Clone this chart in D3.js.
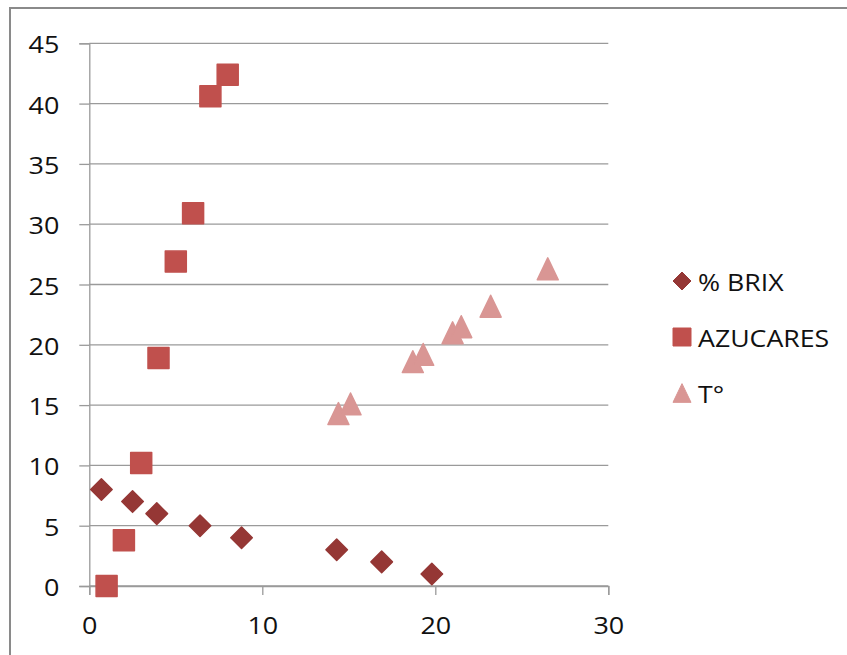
<!DOCTYPE html>
<html>
<head>
<meta charset="utf-8">
<script src="https://cdn.jsdelivr.net/npm/d3@7"></script>
<style>
  html, body { margin: 0; padding: 0; background: #fff; }
  svg { display: block; }
  text { font-family: "Open Sans", "Noto Sans", sans-serif; fill: #111; }
</style>
</head>
<body>
<svg id="chart" width="847" height="655"></svg>
<script>
// Series values: [x, y] pairs
const brix = [[0.7, 8], [2.5, 7], [3.9, 6], [6.4, 5], [8.8, 4], [14.3, 3], [16.9, 2], [19.8, 1]];
const azucares = [[1.0, 0], [2.0, 3.8], [3.0, 10.2], [4.0, 18.9], [5.0, 26.9], [6.0, 30.9], [7.0, 40.6], [8.0, 42.4]];
const temperatura = [[14.4, 14.3], [15.1, 15.1], [18.7, 18.6], [19.3, 19.2], [21.0, 21.0], [21.5, 21.5], [23.2, 23.2], [26.5, 26.3]];

const seriesNames = ["% BRIX", "AZUCARES", "T°"];
const seriesColors = ["#953735", "#C0504D", "#D99694"];
const xTicks = [0, 10, 20, 30];
const yTicks = [0, 5, 10, 15, 20, 25, 30, 35, 40, 45];

const svg = d3.select("#chart");

// Outer chart frame
svg.append("rect")
  .attr("x", 10).attr("y", 8)
  .attr("width", 860).attr("height", 680)
  .attr("fill", "none")
  .attr("stroke", "#8a8a8a")
  .attr("stroke-width", 2);

const x = d3.scaleLinear().domain([0, 30]).range([89.3, 608.3]);
const y = d3.scaleLinear().domain([0, 45]).range([586, 43.3]);

const gridColor = "#9a9a9a";

// Horizontal gridlines
svg.append("g")
  .selectAll("line")
  .data(yTicks)
  .join("line")
  .attr("x1", x(0)).attr("x2", x(30))
  .attr("y1", d => y(d)).attr("y2", d => y(d))
  .attr("stroke", gridColor)
  .attr("stroke-width", 1.3);

// Y axis
const yAxis = svg.append("g")
  .attr("transform", `translate(${x(0)},0)`)
  .call(d3.axisLeft(y).tickValues(yTicks).tickSize(10).tickPadding(0).tickFormat(d3.format("d")));
yAxis.select(".domain").attr("stroke", gridColor).attr("stroke-width", 1.3);
yAxis.selectAll(".tick line").attr("stroke", gridColor).attr("stroke-width", 1.3);
yAxis.selectAll(".tick text")
  .attr("x", null).attr("dy", null)
  .attr("font-size", 24.5)
  .attr("text-anchor", "end")
  .attr("dominant-baseline", "central")
  .attr("transform", "translate(-30,0) scale(1.1,1)")
  .style("font-family", "'Open Sans', sans-serif")
  .attr("fill", "#111");

// X axis
const xAxis = svg.append("g")
  .attr("transform", `translate(0,${y(0)})`)
  .call(d3.axisBottom(x).tickValues(xTicks).tickSize(9).tickPadding(0).tickFormat(d3.format("d")));
xAxis.select(".domain").attr("stroke", gridColor).attr("stroke-width", 1.3);
xAxis.selectAll(".tick line").attr("stroke", gridColor).attr("stroke-width", 1.3);
xAxis.selectAll(".tick text")
  .attr("y", null).attr("dy", null)
  .attr("font-size", 24.5)
  .attr("text-anchor", "middle")
  .attr("transform", "translate(0,48) scale(1.1,1)")
  .style("font-family", "'Open Sans', sans-serif")
  .attr("fill", "#111");

// Custom marker shapes drawn through d3.symbol
const squareType = {
  draw(ctx, size) {
    const h = Math.sqrt(size) / 2;
    ctx.rect(-h, -h, 2 * h, 2 * h);
  }
};
const diamondType = {
  draw(ctx, size) {
    const r = Math.sqrt(size) / 2;
    ctx.moveTo(0, -r); ctx.lineTo(r, 0); ctx.lineTo(0, r); ctx.lineTo(-r, 0); ctx.closePath();
  }
};
const triangleType = {
  draw(ctx, size) {
    const w = Math.sqrt(size) / 2;
    const h = w * 1.04;
    ctx.moveTo(0, -h); ctx.lineTo(w, h); ctx.lineTo(-w, h); ctx.closePath();
  }
};

const series = [
  { name: seriesNames[0], data: brix, color: seriesColors[0], type: diamondType, size: 21.5 * 21.5, legendSize: 18 * 18 },
  { name: seriesNames[1], data: azucares, color: seriesColors[1], type: squareType, size: 21 * 21, legendSize: 18 * 18 },
  { name: seriesNames[2], data: temperatura, color: seriesColors[2], type: triangleType, size: 21 * 21, legendSize: 18 * 18 }
];

series.forEach(s => {
  svg.append("g")
    .selectAll("path")
    .data(s.data)
    .join("path")
    .attr("transform", d => `translate(${x(d[0])},${y(d[1])})`)
    .attr("d", d3.symbol().type(s.type).size(s.size))
    .attr("fill", s.color)
    .attr("stroke", s.color)
    .attr("stroke-width", 1.5)
    .attr("stroke-linejoin", "round");
});

// Legend
const legend = svg.append("g").attr("transform", "translate(682,281)");
const item = legend.selectAll("g")
  .data(series)
  .join("g")
  .attr("transform", (d, i) => `translate(0,${i * 56})`);
item.append("path")
  .attr("d", d => d3.symbol().type(d.type).size(d.legendSize)())
  .attr("fill", d => d.color)
  .attr("stroke", d => d.color)
  .attr("stroke-width", 1)
  .attr("stroke-linejoin", "round");
item.append("text")
  .attr("transform", "translate(16,9.5) scale(1.09,1)")
  .attr("font-size", 24.5)
  .text(d => d.name);
</script>
</body>
</html>
